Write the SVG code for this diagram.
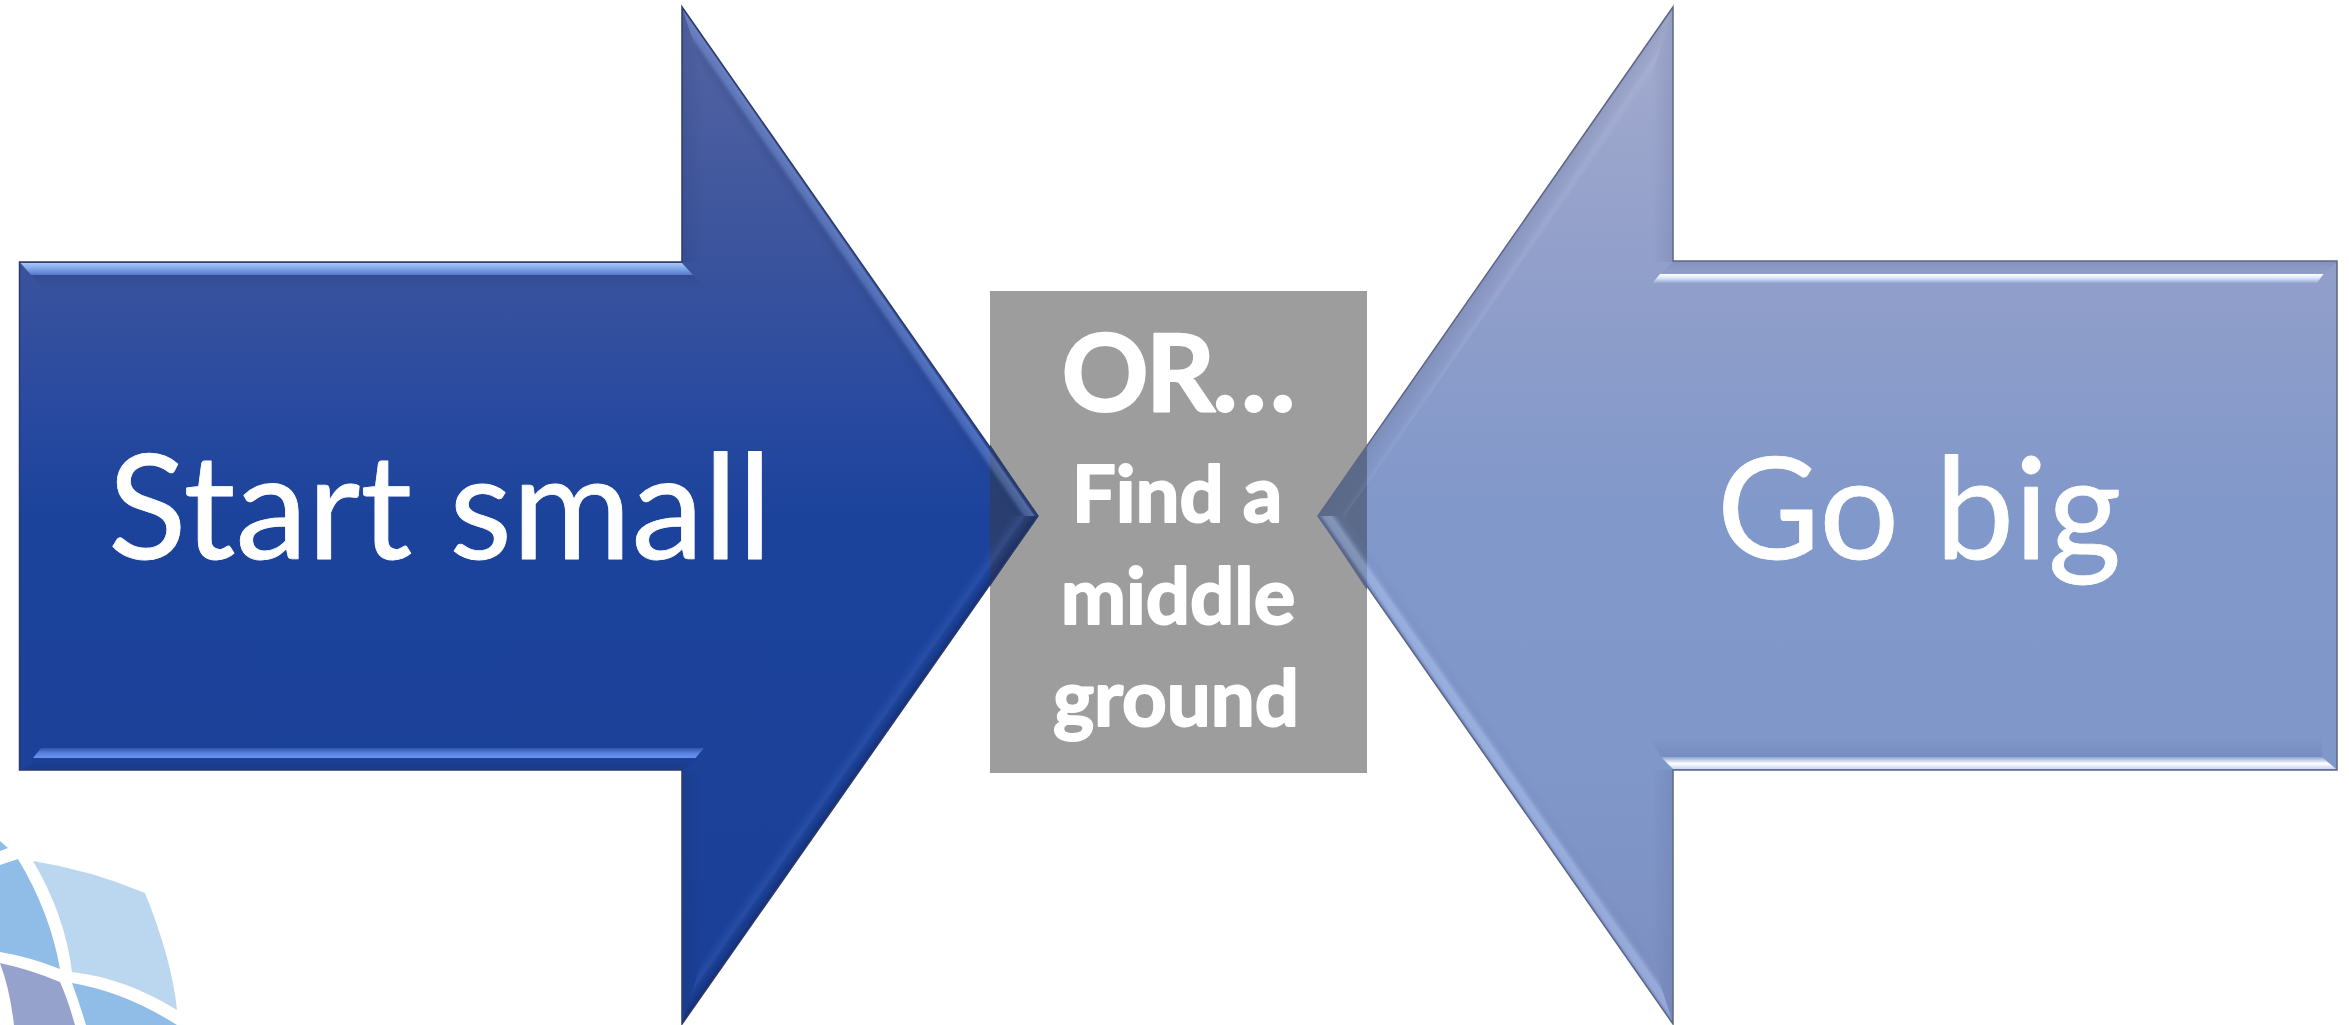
<svg xmlns="http://www.w3.org/2000/svg" width="2349" height="1025" viewBox="0 0 2349 1025">
<style>
.t{fill:#fff;font-family:"Lato","Carlito","Liberation Sans",sans-serif;stroke:#fff;stroke-width:.8;stroke-linejoin:round}
.b{font-weight:700;text-anchor:middle;stroke-width:2}
</style>
<defs>
<linearGradient id="lf" gradientUnits="userSpaceOnUse" x1="0" y1="7" x2="0" y2="1024">
<stop offset="0" stop-color="#5565a3"/><stop offset=".25" stop-color="#3a539c"/><stop offset=".39" stop-color="#2a4aa0"/><stop offset=".5" stop-color="#1c439c"/><stop offset="1" stop-color="#1a3f96"/>
</linearGradient>
<linearGradient id="rf" gradientUnits="userSpaceOnUse" x1="0" y1="7" x2="0" y2="1024">
<stop offset="0" stop-color="#a4acce"/><stop offset=".25" stop-color="#929fca"/><stop offset=".5" stop-color="#8198ca"/><stop offset=".75" stop-color="#8097c9"/><stop offset="1" stop-color="#7e8fc1"/>
</linearGradient>
<linearGradient id="lu" gradientUnits="userSpaceOnUse" x1="860" y1="261.5" x2="842" y2="274">
<stop offset="0" stop-color="#1d2f6a" stop-opacity=".2"/><stop offset=".12" stop-color="#8fb0f0" stop-opacity=".4"/><stop offset=".4" stop-color="#8fb0f0" stop-opacity=".28"/><stop offset=".62" stop-color="#1d2f5a" stop-opacity=".12"/><stop offset="1" stop-color="#1d2f5a" stop-opacity="0"/>
</linearGradient>
<linearGradient id="ll" gradientUnits="userSpaceOnUse" x1="860" y1="770" x2="842" y2="757.4">
<stop offset="0" stop-color="#0d1c4c" stop-opacity=".45"/><stop offset=".3" stop-color="#0d1c4c" stop-opacity=".08"/><stop offset=".55" stop-color="#5a82dc" stop-opacity=".2"/><stop offset=".8" stop-color="#5a82dc" stop-opacity=".07"/><stop offset="1" stop-color="#5a82dc" stop-opacity="0"/>
</linearGradient>
<linearGradient id="ru" gradientUnits="userSpaceOnUse" x1="1495" y1="261.5" x2="1518" y2="277">
<stop offset="0" stop-color="#5f6888" stop-opacity=".22"/><stop offset=".45" stop-color="#66719a" stop-opacity=".08"/><stop offset=".7" stop-color="#c6d2f2" stop-opacity=".14"/><stop offset="1" stop-color="#c6d2f2" stop-opacity="0"/>
</linearGradient>
<linearGradient id="rl" gradientUnits="userSpaceOnUse" x1="1495" y1="770" x2="1518" y2="754">
<stop offset="0" stop-color="#4a5c96" stop-opacity=".4"/><stop offset=".15" stop-color="#b6ccf8" stop-opacity=".4"/><stop offset=".36" stop-color="#b6ccf8" stop-opacity=".45"/><stop offset=".58" stop-color="#6f83b8" stop-opacity=".15"/><stop offset="1" stop-color="#6f83b8" stop-opacity="0"/>
</linearGradient>
<linearGradient id="lh1" x1="0" y1="0" x2="0" y2="1">
<stop offset="0" stop-color="#a8c6f8"/><stop offset=".55" stop-color="#7aa0e4"/><stop offset="1" stop-color="#5478c8"/>
</linearGradient>
<linearGradient id="lh2" x1="0" y1="0" x2="0" y2="1">
<stop offset="0" stop-color="#2f55b0"/><stop offset=".55" stop-color="#5a84e0"/><stop offset="1" stop-color="#6c94ee"/>
</linearGradient>
<linearGradient id="rh1" x1="0" y1="0" x2="0" y2="1">
<stop offset="0" stop-color="#fff"/><stop offset=".45" stop-color="#dce8ff"/><stop offset="1" stop-color="#96a6d0"/>
</linearGradient>
<linearGradient id="rh2" x1="0" y1="0" x2="0" y2="1">
<stop offset="0" stop-color="#8ba3d6"/><stop offset=".55" stop-color="#fff"/><stop offset="1" stop-color="#c3d4f8"/>
</linearGradient>
<linearGradient id="dk" x1="0" y1="0" x2="0" y2="1">
<stop offset="0" stop-color="#1c2c60" stop-opacity=".16"/><stop offset="1" stop-color="#1c2c60" stop-opacity="0"/>
</linearGradient>
<linearGradient id="dku" x1="0" y1="1" x2="0" y2="0">
<stop offset="0" stop-color="#1c2c60" stop-opacity=".3"/><stop offset="1" stop-color="#1c2c60" stop-opacity="0"/>
</linearGradient>
<linearGradient id="dk2" x1="0" y1="0" x2="1" y2="0">
<stop offset="0" stop-color="#1c2c60" stop-opacity=".14"/><stop offset="1" stop-color="#1c2c60" stop-opacity="0"/>
</linearGradient>
<linearGradient id="dk3" x1="1" y1="0" x2="0" y2="0">
<stop offset="0" stop-color="#4a5a88" stop-opacity=".16"/><stop offset="1" stop-color="#4a5a88" stop-opacity="0"/>
</linearGradient>
<clipPath id="gc"><rect x="990" y="291" width="377" height="482"/></clipPath>
</defs>

<g id="logo">
<path fill="#bbd7f0" d="M33,861Q90,870 145,893Q172,960 177,1010Q125,978 72,972Q65,915 33,861Z"/>
<path fill="#90bde8" d="M18,859Q50,912 60,969Q30,957 0,952L0,865Z"/>
<path fill="#90bde8" d="M0,841L8,848L0,851Z"/>
<path fill="#95a3cc" d="M0,963Q32,970 60,982Q68,1000 75,1025L14,1025Q10,990 0,963Z"/>
<path fill="#90bde8" d="M72,983Q125,992 177,1025L86,1025Q80,1005 72,983Z"/>
</g>

<g id="middle-ground">
<rect x="990" y="291" width="377" height="482" fill="#9d9d9d"/>
</g>

<g id="start-small">
<polygon fill="url(#lf)" points="19.5,262 682,262 682,7 1038,516 682,1024 682,770 19.5,770"/>
<g clip-path="url(#gc)"><polygon fill="#2a3e70" points="960,400 1038,516 960,630"/></g>
<polygon fill="url(#lu)" points="682,7 1038,516 1011,516 704,77"/>
<polygon fill="url(#ll)" points="682,1024 1038,516 1011,516 704,954"/>
<polygon fill="url(#dk2)" points="683,9 704,77 704,262 683,262"/>
<polygon fill="url(#dk2)" points="683,770 703,770 704,954 683,1020"/>
<polygon fill="url(#dk)" points="31,275 693,275 706,291 45,291"/>
<polygon fill="url(#dku)" points="41,758 696,758 684,770 20,770"/>
<polygon fill="url(#lh1)" points="20.5,263 682,263 693,275 31,275"/>
<polygon fill="url(#lh2)" points="41,748 704,748 695.5,758 33,758"/>
<polygon fill="none" stroke="#2c3a6c" stroke-width="1.5" points="19.5,262 682,262 682,7 1038,516 682,1024 682,770 19.5,770"/>
<text class="t" x="108" y="559" font-size="145">Start small</text>
</g>

<g id="go-big">
<polygon fill="url(#rf)" points="2337,261 1673,261 1673,7 1318,516 1673,1024 1673,770 2337,770"/>
<g clip-path="url(#gc)"><polygon fill="#5a6a88" points="1400,400 1318,516 1400,640"/></g>
<polygon fill="url(#ru)" points="1673,7 1318,516 1345,516 1651,77"/>
<polygon fill="url(#rl)" points="1673,1024 1318,516 1345,516 1651,954"/>
<polygon fill="url(#dk3)" points="1652,77 1672,9 1672,262 1652,262"/>
<polygon fill="url(#dk3)" points="1653,770 1672,770 1672,1020 1651,954"/>
<polygon fill="url(#dk)" points="1673,262 2337,262 2323,274 1661,274" opacity=".7"/>
<polygon fill="url(#rh1)" points="1660,274 2323.5,274 2317,283 1652.5,283"/>
<polygon fill="url(#rh2)" points="1661,757 2322,757 2336,769 1673,769"/>
<polygon fill="url(#dku)" points="1650,738 2322,738 2322,757 1661,757" opacity=".3"/>
<polygon fill="none" stroke="#5c6688" stroke-width="1.5" points="2337,261 1673,261 1673,7 1318,516 1673,1024 1673,770 2337,770"/>
<text class="t" x="1717" y="559" font-size="141">Go big</text>
</g>

<g id="middle-ground-text">
<text class="t b" x="1177" y="411" font-size="108" letter-spacing="-3">OR…</text>
<text class="t b" x="1177" y="522" font-size="78">Find a</text>
<text class="t b" x="1178" y="624" font-size="78">middle</text>
<text class="t b" x="1176" y="726" font-size="78">ground</text>
</g>

<g id="connectors"/>
</svg>
